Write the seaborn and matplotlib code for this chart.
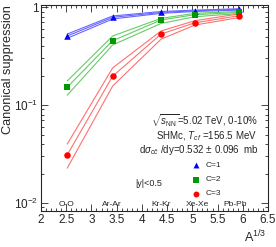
import numpy as np
import pandas as pd
import matplotlib
matplotlib.use("Agg")
import matplotlib.pyplot as plt
import seaborn as sns
from matplotlib.ticker import MultipleLocator, LogLocator, NullFormatter

# A^(1/3) of O, Ar, Kr, Xe, Pb
a13 = [2.52, 3.42, 4.38, 5.05, 5.925]
systems = ["O-O", "Ar-Ar", "Kr-Kr", "Xe-Xe", "Pb-Pb"]
sys_pos = [2.51, 3.41, 4.38, 5.10, 5.85]

c1 = [0.506, 0.785, 0.88, 0.917, 0.946]
c1_hi = [0.53, 0.81, 0.90, 0.93, 0.96]
c1_lo = [0.48, 0.755, 0.862, 0.90, 0.93]

c2 = [0.152, 0.453, 0.737, 0.835, 0.88]
c2_hi = [0.176, 0.506, 0.766, 0.862, 0.90]
c2_lo = [0.126, 0.41, 0.68, 0.796, 0.858]

c3 = [0.031, 0.197, 0.53, 0.69, 0.815]
c3_hi = [0.040, 0.239, 0.57, 0.725, 0.85]
c3_lo = [0.0227, 0.156, 0.47, 0.655, 0.78]

sns.set_style("ticks")
plt.rcParams['font.family'] = ['Liberation Sans', 'DejaVu Sans']
plt.rcParams['mathtext.fontset'] = 'custom'
plt.rcParams['mathtext.rm'] = 'Liberation Sans'
plt.rcParams['mathtext.it'] = 'Liberation Sans:italic'

rows = []
for name, cen, hi, lo in [("C=1", c1, c1_hi, c1_lo), ("C=2", c2, c2_hi, c2_lo), ("C=3", c3, c3_hi, c3_lo)]:
    for band, vals in [("hi", hi), ("mid", cen), ("lo", lo)]:
        for x, v in zip(a13, vals):
            rows.append({"x": x, "y": v, "C": name, "band": name + band})
df = pd.DataFrame(rows)
pts = pd.DataFrame({"x": a13 * 3, "y": c1 + c2 + c3,
                    "C": ["C=1"] * 5 + ["C=2"] * 5 + ["C=3"] * 5})

line_cols = {"C=1": "#6666ff", "C=2": "#66cc66", "C=3": "#ff7070"}
mark_cols = {"C=1": "#0000ff", "C=2": "#009900", "C=3": "#ff0000"}
markers = {"C=1": "^", "C=2": "s", "C=3": "o"}

fig = plt.figure(figsize=(2.76, 2.47), dpi=100)
ax = fig.add_axes([0.1486, 0.146, 0.8224, 0.834])

for name in ["C=1", "C=2", "C=3"]:
    sub = df[df["C"] == name]
    sns.lineplot(data=sub, x="x", y="y", units="band", estimator=None,
                 color=line_cols[name], lw=0.8, ax=ax, legend=False)
    sp = pts[pts["C"] == name]
    sns.scatterplot(data=sp, x="x", y="y", marker=markers[name],
                    color=mark_cols[name], s=22, linewidth=0, ax=ax,
                    legend=False, zorder=5)

ax.set_yscale("log")
ax.set_xlim(2, 6.5)
ax.set_ylim(0.0083, 1.05)
ax.xaxis.set_major_locator(MultipleLocator(0.5))
ax.xaxis.set_minor_locator(MultipleLocator(0.1))
ax.yaxis.set_major_locator(LogLocator(base=10))
ax.yaxis.set_minor_locator(LogLocator(base=10, subs=np.arange(2, 10)))
ax.yaxis.set_minor_formatter(NullFormatter())
ax.set_xticks([2, 2.5, 3, 3.5, 4, 4.5, 5, 5.5, 6, 6.5])
ax.set_xticklabels(["2", "2.5", "3", "3.5", "4", "4.5", "5", "5.5", "6", "6.5"])
ax.set_yticks([0.01, 0.1, 1])
ax.set_yticklabels([r"$10^{-2}$", r"$10^{-1}$", "1"])
ax.tick_params(which="both", direction="in", top=True, right=True, width=0.6)
ax.tick_params(which="major", length=5, labelsize=8.5, pad=2)
ax.tick_params(which="minor", length=2.5)
for s in ax.spines.values():
    s.set_linewidth(0.8)

ax.set_xlabel("")
ax.set_ylabel("")
fig.text(0.03, 0.72, "Canonical suppression", fontsize=9.2, rotation=90,
         ha="center", va="center")
fig.text(0.964, 0.008, r"A$^{1/3}$", fontsize=9, ha="right", va="bottom")

for lab, xp in zip(systems, sys_pos):
    ax.text(xp, 0.0088, lab, fontsize=6, ha="center", va="bottom", color="#222222")

ax.text(6.29, 0.0687, r"$\sqrt{s_{\rm NN}}$=5.02 TeV, 0-10%", fontsize=7, ha="right", va="center")
ax.text(6.29, 0.0483, r"SHMc, $T_{cf}$ =156.5 MeV", fontsize=7, ha="right", va="center")
ax.text(6.33, 0.0347, r"d$\sigma_{c\bar{c}}$ /dy=0.532 $\pm$ 0.096  mb", fontsize=7, ha="right", va="center")
ax.text(3.87, 0.016, "|y|<0.5", fontsize=6.5, ha="left", va="center")

leg_y = [0.0244, 0.0172, 0.01236]
for name, ly in zip(["C=1", "C=2", "C=3"], leg_y):
    ax.scatter([5.08], [ly], marker=markers[name], color=mark_cols[name], s=18, linewidth=0, zorder=5)
    ax.text(5.26, ly, name, fontsize=6, ha="left", va="center")

fig.savefig("out.png", dpi=100)
